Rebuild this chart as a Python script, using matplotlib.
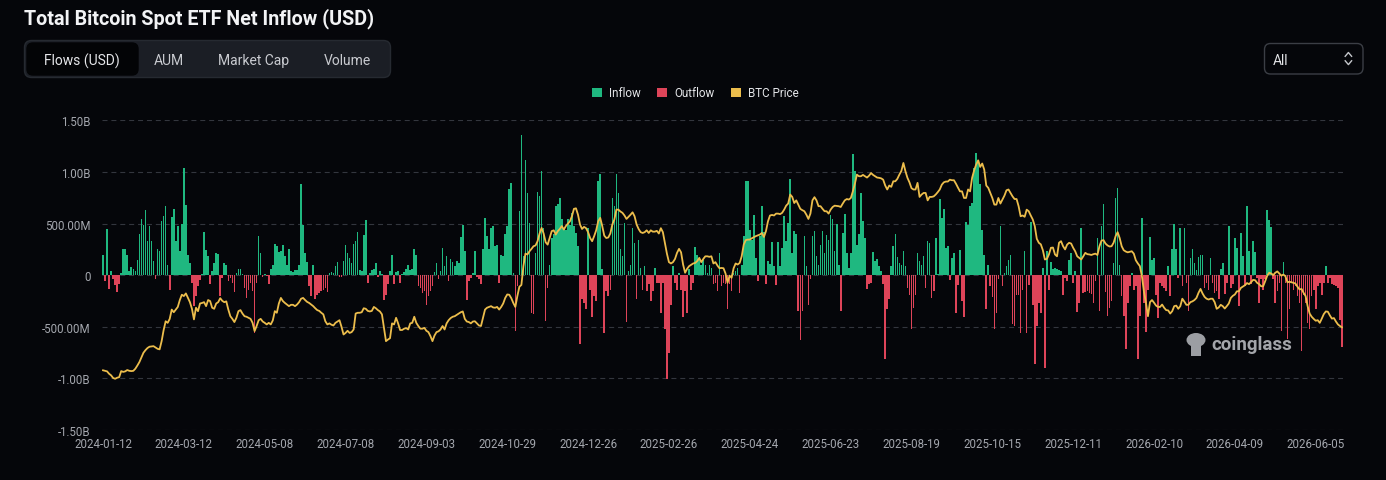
import numpy as np
import matplotlib
matplotlib.use("Agg")
import matplotlib.pyplot as plt
from matplotlib.patches import FancyBboxPatch, Rectangle, Ellipse
from matplotlib.lines import Line2D

# daily net flows in millions of USD in segments
flowSeg1 = [200, -58, 450, -130, 40, -40, -100, -165, -90, 20,
            255, 250, 200, 40, 80, 60, 40, 145, 400, 540,
            490, 635, 335, 480, 335, 135, -35, 250, 232, 520,
            575, 670, 95, -140, 565, 640, 330, 475, 232, 500,
            1040, 680, 200, 120, -75, -300, -200, -105, -50, 10,
            415, 242, 185, -90, 40, 113, 210, 205, -205, -25,
            120, 95, -58, -25, -75, -165, 20, 60, 55, 15,
            -120, -220, -140, -75, -155, -560, -75, 377, 215, -20,
            10, -10, -90, 60, 100, 300, 280, 228, 232, 295]
flowSeg2 = [185, 100, 250, 40, 30, 50, 50, 100, 887, 490,
            215, 125, -105, -205, 100, -230, -190, -170, -155, -140,
            -125, -165, 20, 30, 20, 85, 125, -15, -15, 140,
            295, 215, 165, 120, 300, 330, 420, 50, 40, 385,
            530, -80, 20, 50, 55, 120, -20, 40, 10, -240,
            -190, -90, 40, 200, -90, 30, 40, -80, 15, 30,
            55, 95, 50, 60, 250, 200, -105, -120, -170, -155,
            -285, -205, -155, -105, 30, 113, -40, 40, 265, 85,
            185, -58, 158, 125, 85, 135, 120, 368, 490, 232]
flowSeg3 = [-240, -58, -25, 20, 232, -20, -40, -90, 250, 555,
            377, 255, 458, 475, 280, 295, -80, 195, 185, 395,
            475, 830, 895, 20, -540, -105, 620, 1360, 185, 1120,
            795, 505, -365, -380, 215, 810, 765, 1005, 458, -440,
            -120, 100, 360, 395, 670, 685, 750, 540, 458, 435,
            540, 490, 603, 475, 410, 280, -670, -235, -270, -330,
            458, -140, -410, -205, -250, 910, 975, 55, -565, -155,
            -205, -140, 750, 670, 975, 795, 250, 190, 505, -455,
            40, 95, 458, 315, -235, 345, 70, -140, 85]
flowSeg4 = [-155, -90, -250, -155, 70, -75, -75, -365, -75, -520,
            -1010, -750, -285, 85, -75, -140, 20, -140, -410, -155,
            -370, 55, -140, -75, 275, 200, 165, 100, 150, 95,
            20, 100, 70, -90, -75, -155, 215, -105, -80, -90,
            -325, -90, -155, 20, 40, 70, -170, 100, 377, 910,
            915, 435, 345, 587, 165, -58, 377, 670, 415, -90,
            135, 110, 320, 85, -100, 320, 85, 265, 570, 330,
            505, 930, 215, 425, 395, -350, -625, -350, 377, 85,
            -285, -40, 377, 425, 185, 100, 295, 425, 215]
flowSeg5 = [385, 345, 587, 545, 232, 500, 100, -350, 410, 597,
            215, 70, 215, 1175, 1005, 295, 400, 795, 520, 360,
            -130, -90, -80, 222, 135, 158, 85, 45, -90, -810,
            -325, -235, 85, 280, 400, 177, 120, 100, 232, 85,
            -120, -197, -520, -315, -190, 215, 135, 100, 185, -120,
            330, 315, -220, -155, 360, 15, 740, 555, 640, 265,
            287, -50, 168, 215, -365, -100, 240, -250, -410, 515,
            490, 670, 700, 1040, 1185, 1090, 880, 440, 200, -330,
            100, -105, -210, -525, -365, -40]
flowSeg6 = [475, -105, 20, 85, 150, 200, -475, -495, -190, -190,
            -565, -140, 232, -560, -100, 515, -285, -865, -495, -270,
            -365, 70, -900, 232, -140, 125, 60, 70, 60, 50,
            40, -190, -30, -58, 150, 215, -75, 45, -360, -270,
            458, -170, -165, -155, -170, -185, -270, -60, 360, -350,
            475, 690, -165, -397, -315, -250, 113, 750, 840, 100,
            -205, -397, -712, -270, -105, 20, -140, -105, -815, -397,
            555, -270, -552, -140, 370, 150, 165, -190, -412, -75,
            -105, -120, -155, 85, -205, 250, 500, 255, -25, 458,
            -105, 458]
flowSeg7 = [-75, -350, 165, 250, 113, 50, 177, 200, 200, -120,
            -75, -140, 165, -75, -170, -155, -235, 60, 113, -185,
            -80, 475, -120, -90, 360, 265, -295, 410, 185, -105,
            670, 232, -90, 335, 222, -25, -270, -40, -140, -40,
            630, 530, 470, -40, -270, -155, -75, -540, 125, -75,
            -622, -330, -75, -140, -105, -205, -270, -735, -190, -270,
            -460, -520, -205, -140, -330, -105, -75, -190, -75, 85,
            -75, -25, -90, -100, -105, -120, -430, -695]

# BTC close in thousands of USD, same days
priceSeg1 = [42.6, 42.4, 42.2, 41.3, 40.7, 39.7, 39.4, 39.8, 40.0, 42.3,
             42.0, 42.2, 42.7, 42.4, 42.3, 42.4, 43.2, 44.4, 45.7, 47.5,
             49.2, 50.2, 51.0, 51.5, 51.6, 51.7, 51.2, 50.7, 50.5, 53.6,
             57.8, 61.1, 60.5, 62.0, 65.5, 64.5, 65.5, 66.5, 69.1, 71.1,
             70.6, 71.6, 69.9, 68.3, 65.8, 61.8, 66.2, 64.9, 67.8, 68.0,
             68.3, 66.8, 69.1, 68.7, 66.2, 65.8, 67.8, 68.3, 69.8, 68.8,
             68.3, 68.6, 65.5, 63.0, 62.0, 60.8, 62.4, 64.9, 65.3, 64.0,
             63.0, 62.8, 62.4, 62.0, 60.5, 57.4, 59.3, 61.5, 62.0, 61.0,
             60.5, 59.9, 60.5, 59.9, 61.4, 64.9, 64.3, 67.8, 69.9, 68.7]
priceSeg2 = [68.0, 67.4, 66.8, 67.3, 67.3, 66.8, 67.4, 68.3, 69.6, 69.9,
             69.1, 68.4, 68.0, 67.4, 66.8, 66.0, 65.3, 65.0, 64.3, 63.7,
             61.1, 59.9, 60.3, 59.8, 59.5, 60.5, 61.0, 61.5, 59.0, 56.1,
             56.7, 57.5, 56.7, 57.0, 58.0, 64.0, 64.3, 64.3, 64.5, 66.0,
             65.8, 65.0, 64.8, 65.0, 66.5, 66.0, 65.3, 64.8, 63.7, 58.6,
             53.6, 54.2, 54.7, 60.3, 59.9, 62.4, 60.3, 57.8, 57.8, 58.3,
             58.5, 58.0, 60.3, 60.5, 62.8, 60.5, 59.3, 58.3, 58.3, 58.6,
             57.5, 57.0, 55.5, 53.6, 55.7, 57.0, 57.3, 58.0, 59.3, 58.0,
             60.3, 61.5, 62.3, 62.8, 63.0, 63.5, 64.0, 64.5, 64.8, 62.0]
priceSeg3 = [61.0, 60.8, 60.3, 61.0, 61.1, 60.3, 59.5, 59.3, 62.4, 65.5,
             66.2, 66.5, 66.8, 66.3, 66.2, 66.5, 65.5, 66.5, 67.8, 69.9,
             71.2, 71.1, 69.8, 68.0, 66.5, 70.6, 74.1, 74.8, 81.9, 86.6,
             86.3, 87.5, 88.4, 89.4, 89.7, 91.3, 94.2, 96.3, 94.2, 90.9,
             90.0, 92.5, 95.1, 95.4, 93.8, 95.1, 95.9, 97.0, 95.7, 97.0,
             97.9, 98.8, 100.7, 103.5, 103.7, 101.3, 97.6, 95.9, 96.7, 96.2,
             94.7, 92.5, 91.3, 93.2, 95.4, 98.8, 100.1, 97.0, 93.4, 92.5,
             92.7, 94.2, 97.6, 99.5, 103.2, 103.2, 102.5, 102.0, 101.0, 99.7,
             100.5, 101.3, 102.2, 100.7, 97.6, 95.9, 94.7, 94.4, 94.7]
priceSeg4 = [95.4, 94.4, 95.4, 94.9, 94.9, 95.2, 94.2, 96.2, 94.7, 90.7,
             86.6, 83.4, 82.9, 83.4, 84.6, 86.9, 88.4, 87.1, 82.5, 79.4,
             80.9, 81.9, 82.4, 82.9, 83.1, 83.8, 85.0, 83.4, 84.6, 85.6,
             85.6, 85.4, 85.6, 82.9, 83.4, 82.1, 81.1, 81.2, 81.1, 79.1,
             75.6, 78.3, 77.5, 81.1, 82.9, 82.5, 83.1, 85.6, 90.0, 91.7,
             91.9, 91.9, 92.4, 92.8, 93.2, 93.5, 93.8, 94.4, 92.9, 95.1,
             98.8, 101.0, 101.2, 101.0, 101.7, 101.7, 101.5, 102.0, 103.2, 104.7,
             105.5, 108.9, 108.0, 105.7, 106.7, 105.1, 103.5, 103.0, 102.6, 101.3,
             99.7, 101.7, 106.7, 107.9, 106.7, 104.5, 104.5, 103.5, 102.6]
priceSeg5 = [102.6, 101.7, 103.2, 104.2, 104.7, 104.6, 104.5, 104.2, 105.5, 106.7,
             107.2, 107.0, 107.6, 110.1, 113.0, 116.4, 115.8, 115.8, 116.3, 115.8,
             115.3, 116.0, 117.0, 116.3, 115.8, 115.3, 115.2, 115.0, 114.5, 112.3,
             110.8, 112.3, 111.8, 113.9, 113.9, 114.8, 116.4, 117.8, 120.8, 117.7,
             115.2, 113.5, 111.3, 110.8, 110.8, 113.3, 108.0, 108.9, 109.5, 109.5,
             106.7, 108.0, 108.0, 108.2, 108.9, 109.8, 110.8, 112.6, 113.5, 113.8,
             113.8, 114.5, 114.3, 114.3, 113.0, 111.5, 110.1, 110.1, 107.6, 107.6,
             110.8, 110.1, 115.2, 118.0, 120.2, 121.8, 119.3, 120.6, 118.3, 112.3,
             111.4, 109.5, 107.6, 105.1, 105.1, 107.6]
priceSeg6 = [105.5, 107.0, 108.5, 110.5, 110.8, 109.5, 108.2, 107.2, 107.2, 104.5,
             100.7, 101.0, 100.5, 103.2, 102.6, 101.0, 99.5, 97.0, 92.2, 90.7,
             90.1, 87.9, 84.4, 84.6, 86.3, 88.8, 88.9, 86.3, 85.6, 90.7,
             91.3, 89.4, 88.2, 90.0, 90.7, 90.4, 88.8, 87.5, 85.6, 85.0,
             84.4, 85.6, 86.9, 86.4, 86.3, 86.1, 86.4, 86.6, 86.1, 89.4,
             91.5, 91.7, 90.4, 89.7, 89.3, 89.4, 90.7, 93.2, 94.7, 92.5,
             89.4, 87.9, 87.4, 87.1, 87.3, 87.5, 86.6, 84.1, 82.9, 81.9,
             78.1, 72.4, 68.1, 63.0, 68.3, 69.1, 68.1, 67.0, 66.5, 66.5,
             67.4, 66.2, 65.3, 65.2, 64.0, 64.9, 66.8, 67.0, 65.8, 66.8,
             69.6, 68.5]
priceSeg7 = [67.3, 67.3, 68.3, 68.6, 69.1, 69.9, 71.8, 73.3, 71.6, 70.3,
             69.6, 69.3, 69.6, 69.6, 68.3, 65.8, 66.3, 67.3, 66.8, 65.9,
             66.8, 67.8, 69.9, 70.7, 71.2, 72.4, 72.4, 73.7, 74.2, 74.7,
             75.5, 75.1, 75.8, 76.7, 76.6, 75.6, 75.1, 74.3, 74.3, 76.2,
             78.3, 79.4, 79.1, 78.5, 79.4, 79.9, 79.1, 78.3, 78.7, 78.1,
             75.8, 76.0, 75.8, 75.6, 75.3, 74.1, 73.1, 73.3, 71.8, 70.6,
             66.8, 64.0, 62.8, 62.0, 61.3, 61.5, 60.5, 62.1, 63.8, 64.8,
             64.7, 63.3, 62.1, 62.3, 61.0, 59.9, 59.3, 58.8]

netFlowM = flowSeg1 + flowSeg2 + flowSeg3 + flowSeg4 + flowSeg5 + flowSeg6 + flowSeg7
btcPriceK = priceSeg1 + priceSeg2 + priceSeg3 + priceSeg4 + priceSeg5 + priceSeg6 + priceSeg7

dateLabels = ['2024-01-12', '2024-03-12', '2024-05-08', '2024-07-08', '2024-09-03',
              '2024-10-29', '2024-12-26', '2025-02-26', '2025-04-24', '2025-06-23',
              '2025-08-19', '2025-10-15', '2025-12-11', '2026-02-10', '2026-04-09',
              '2026-06-05']
labelStep = 40
yTickValues = [-1500, -1000, -500, 0, 500, 1000, 1500]
yTickLabels = ['-1.50B', '-1.00B', '-500.00M', '0', '500.00M', '1.00B', '1.50B']
legendNames = ['Inflow', 'Outflow', 'BTC Price']
tabNames = ['Flows (USD)', 'AUM', 'Market Cap', 'Volume']
chartTitle = 'Total Bitcoin Spot ETF Net Inflow (USD)'

if len(netFlowM) != len(btcPriceK):
    raise ValueError(f"length mismatch {len(netFlowM)} vs {len(btcPriceK)}")

W, H = 1386, 481
BG = '#05060a'
GREEN = '#1fb880'
RED = '#de4459'
YELLOW = '#ecbd4c'
FONT = 'Roboto'


def px(x, y):
    return x / W, 1 - y / H


def addBox(fig, x0, y0, x1, y1, face, edge, radius):
    fx0, fy1 = px(x0, y0)
    fx1, fy0 = px(x1, y1)
    box = FancyBboxPatch((fx0, fy0), fx1 - fx0, fy1 - fy0,
                         boxstyle=f"round,pad=0,rounding_size={radius / W}",
                         transform=fig.transFigure, facecolor=face,
                         edgecolor=edge, linewidth=1.0,
                         mutation_aspect=W / H)
    fig.patches.append(box)


def drawHeader(fig):
    fig.text(*px(24, 24.5), chartTitle, color='#f2f3f5', fontsize=14.2,
             fontweight='bold', family=FONT, va='baseline', ha='left')
    addBox(fig, 24.5, 41.5, 390.5, 78.5, '#1b1e25', '#262a31', 7)
    addBox(fig, 27, 44, 138, 76, '#030406', '#030406', 6)
    tabCenters = [82, 169, 254, 347]
    for name, cx in zip(tabNames, tabCenters):
        col = '#e6e7ea' if name == tabNames[0] else '#c9cbd0'
        fig.text(*px(cx, 61), name, color=col, fontsize=10, family=FONT,
                 ha='center', va='center')
    addBox(fig, 1264.5, 44.5, 1363, 75, BG, '#3b3e45', 6)
    fig.text(*px(1273, 61), 'All', color='#e2e3e6', fontsize=10,
             family=FONT, ha='left', va='center')
    for ys in [(57.3, 53.5, 57.3), (61.8, 65.6, 61.8)]:
        xs = [1345.2, 1348.4, 1351.6]
        fx = [px(x, 0)[0] for x in xs]
        fy = [px(0, y)[1] for y in ys]
        fig.lines.append(Line2D(fx, fy, transform=fig.transFigure,
                                color='#c5c7cc', linewidth=1.0))


def drawLegend(fig):
    squareLeft = [592, 657, 731]
    colors = [GREEN, RED, YELLOW]
    for name, x0, col in zip(legendNames, squareLeft, colors):
        fx, fy = px(x0, 98)
        fig.patches.append(Rectangle((fx, fy), 9.5 / W, 9.5 / H,
                                     transform=fig.transFigure,
                                     facecolor=col, edgecolor='none'))
        fig.text(*px(x0 + 17.5, 93.3), name, color='#e4e5e8', fontsize=8.4,
                 family=FONT, ha='left', va='center')


def drawWatermark(fig):
    cx, cy = px(1196, 344)
    fig.patches.append(Ellipse((cx, cy + 3 / H), 19 / W, 14 / H,
                               transform=fig.transFigure,
                               facecolor='#9c9ea3', edgecolor='none', zorder=1))
    fig.patches.append(Rectangle((cx - 5 / W, cy - 13 / H), 10 / W, 14 / H,
                                 transform=fig.transFigure,
                                 facecolor='#9c9ea3', edgecolor='none', zorder=1))
    fig.text(*px(1211, 350), 'coinglass', color='#a3a5aa', fontsize=13.5,
             fontweight='bold', family=FONT, ha='left', va='baseline', zorder=1)


def plotFlows():
    fig = plt.figure(figsize=(W / 100, H / 100), dpi=100, facecolor=BG)
    left, bottom = px(102, 431)
    right, top = px(1343, 121.3)
    ax = fig.add_axes([left, bottom, right - left, top - bottom])
    ax.set_facecolor('none')

    x = np.arange(len(netFlowM))
    barColors = [GREEN if v >= 0 else RED for v in netFlowM]
    ax.bar(x, netFlowM, width=0.8, color=barColors, linewidth=0, zorder=3)

    ax.set_xlim(-0.5, len(x) - 0.5)
    ax.set_ylim(yTickValues[0], yTickValues[-1])
    ax.set_yticks(yTickValues)
    ax.set_yticklabels(yTickLabels)
    ax.set_xticks(np.arange(len(dateLabels)) * labelStep)
    ax.set_xticklabels(dateLabels)
    ax.grid(axis='y', color='#33363e', linestyle=(0, (4.5, 3.5)), linewidth=0.8, zorder=0)
    ax.grid(axis='x', visible=False)
    ax.tick_params(axis='both', length=0, labelsize=8.3, labelcolor='#a4a7ae')
    ax.tick_params(axis='y', pad=8)
    ax.tick_params(axis='x', pad=5)
    for lab in ax.get_xticklabels() + ax.get_yticklabels():
        lab.set_family(FONT)
    for spine in ax.spines.values():
        spine.set_visible(False)

    # price rides on its own hidden scale
    ax2 = ax.twinx()
    ax2.plot(x, btcPriceK, color=YELLOW, linewidth=1.3, zorder=4)
    ax2.set_ylim(20.08, 136.9)
    ax2.axis('off')

    drawHeader(fig)
    drawLegend(fig)
    drawWatermark(fig)
    fig.savefig('out.png', dpi=100, facecolor=BG)


plotFlows()
